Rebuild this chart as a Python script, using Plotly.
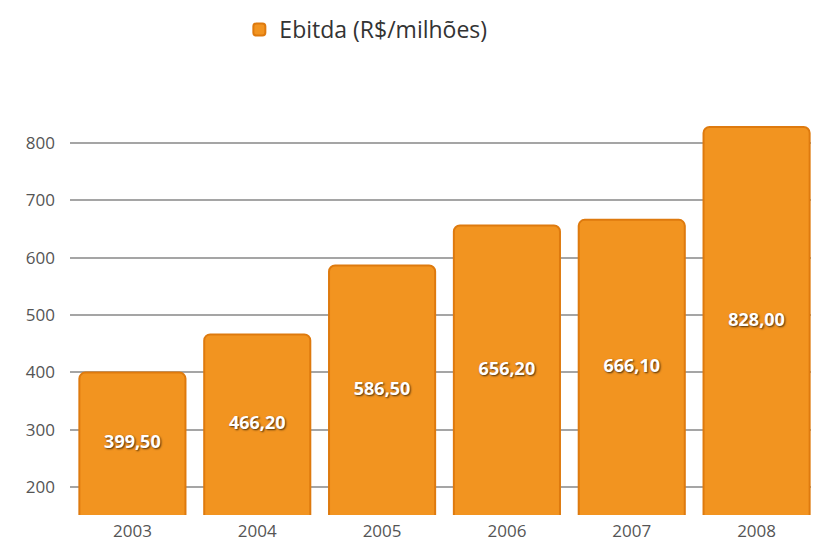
import plotly.graph_objects as go

years = ["2003", "2004", "2005", "2006", "2007", "2008"]
ebitda = [399.5, 466.2, 586.5, 656.2, 666.1, 828.0]
labels = ["399,50", "466,20", "586,50", "656,20", "666,10", "828,00"]
y_ticks = [200, 300, 400, 500, 600, 700, 800]

Y_MIN, Y_MAX = 151, 863

fig = go.Figure()
fig.add_trace(go.Bar(
    x=years, y=ebitda, name="Ebitda (R$/milhões)",
    marker=dict(color="#F29420", line=dict(color="#DE7A0E", width=2), cornerradius=6),
    hoverinfo="x+y",
))
# value labels placed at the middle of the visible part of each bar
fig.add_trace(go.Scatter(
    x=years, y=[(v + Y_MIN) / 2 for v in ebitda], mode="text", text=labels,
    textfont=dict(family="Open Sans, Lato, sans-serif", size=18, color="white",
                  weight="bold", shadow="1px 1px 2px rgba(0,0,0,0.7)"),
    showlegend=False, hoverinfo="skip",
))

fig.update_layout(
    width=811, height=539,
    margin=dict(l=62, r=0, t=99, b=32),
    paper_bgcolor="white", plot_bgcolor="white",
    bargap=0.15,
    showlegend=True,
    legend=dict(orientation="h", x=0.395, xanchor="center", y=1.0, yref="container",
                yanchor="top", font=dict(family="Open Sans, sans-serif", size=23, color="#333"),
                itemsizing="constant"),
    font=dict(family="Open Sans, sans-serif"),
)
fig.update_xaxes(showgrid=False, showline=False, ticks="",
                 tickfont=dict(size=17, color="#555"), ticklabelstandoff=4)
fig.update_yaxes(range=[Y_MIN, Y_MAX], tickvals=y_ticks, showgrid=True, gridcolor="#A5A5A5",
                 gridwidth=2, zeroline=False, showline=False, ticks="",
                 tickfont=dict(size=17, color="#555"), ticklabelstandoff=14)

fig.write_html("out.html")
